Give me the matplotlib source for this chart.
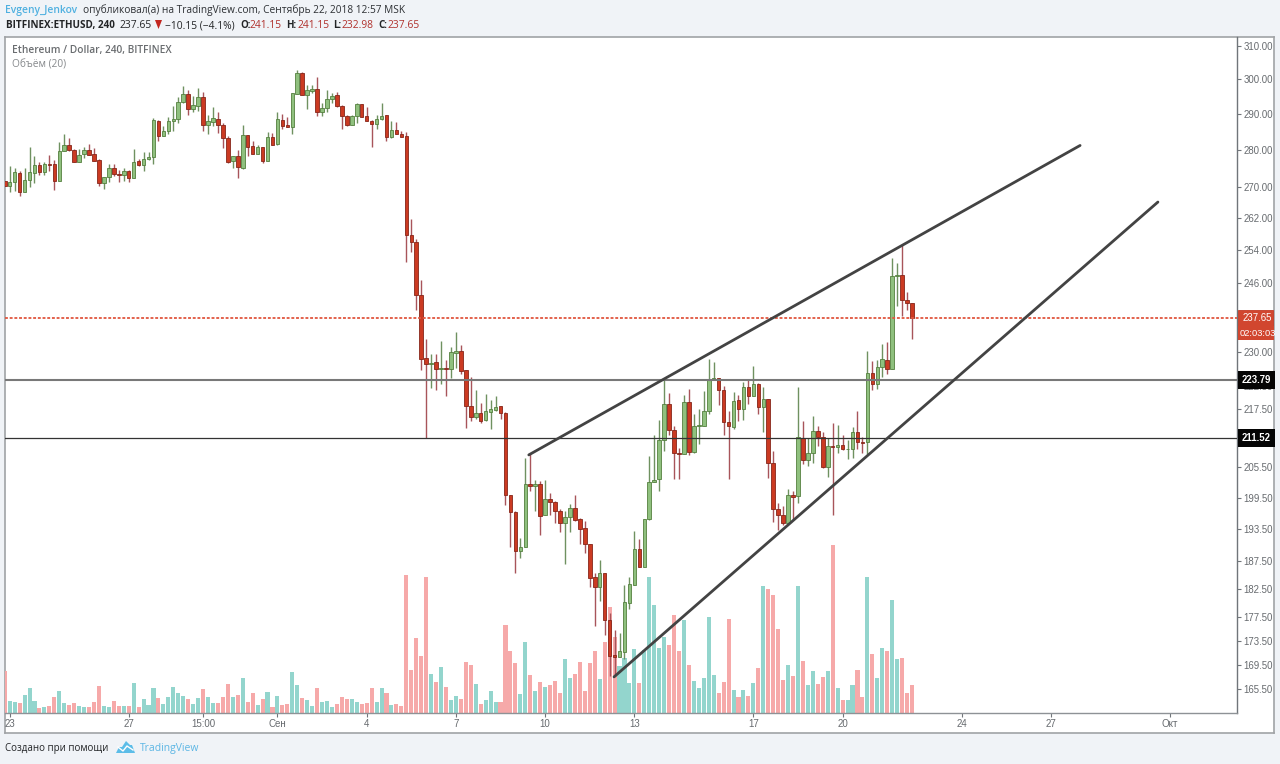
import numpy as np
import matplotlib
matplotlib.use("Agg")
import matplotlib.pyplot as plt
from matplotlib.patches import Polygon, Rectangle
from matplotlib.ticker import FixedLocator, FixedFormatter, NullLocator
from matplotlib.transforms import blended_transform_factory

plt.rcParams["font.family"] = ["Open Sans", "DejaVu Sans"]

# price candles, 4h bars, bar -1 is the one cut by the left edge
opens = [271.6,
    270.3, 271.4, 273.8, 268.9, 271.9, 273.8, 276, 274.2, 276.3, 276.3,
    271.7, 279.9, 281.4, 280, 276.9, 278.9, 280, 279, 277.3, 271.3,
    272.7, 275.2, 273.7, 273.4, 274.4, 272.4, 277, 275.9, 277.6, 278.1,
    288.2, 283.8, 285.3, 288, 288.6, 293.4, 295.8, 291.6, 292.4, 295,
    286.9, 287.7, 288.6, 286.9, 283.3, 277, 278.5, 275.2, 284.3, 281.2,
    279, 280.9, 277.2, 283.7, 281.6, 288.5, 287, 286.4, 295.9, 302,
    295.6, 296.7, 297.3, 290.7, 291.7, 294.4, 295.5, 292.4, 289.6, 287,
    289.6, 293, 289.4, 288.2, 287.2, 288.6, 289.8, 283.5, 285.6, 284.6,
    283.8, 257.8, 256, 243.2, 228.7, 227.4, 227.8, 226.1, 226.5, 226.2,
    229.8, 230.1, 225.9, 218.2, 215.9, 216.7, 215.2, 216.9, 217.4, 218.1,
    216.7, 200, 196.8, 189.3, 190.1, 202.2, 201.7, 202.2, 196.1, 199.2,
    198.7, 197, 194.7, 195.7, 197.5, 195.4, 193.7, 190.7, 184.6, 182.9,
    185.3, 177.1, 171.1, 170.8, 171.6, 180.1, 183.2, 189.7, 186.5, 195.3,
    202.5, 203.1, 211.1, 218.6, 213.2, 208.4, 208.2, 219.1, 208.5, 213.9,
    214, 217, 223.9, 224.3, 221.5, 214.7, 213.8, 219.4, 217.6, 222.3,
    220.2, 223, 218, 219.7, 206.3, 197.3, 196.1, 194.6, 200.1, 199.8,
    211.4, 207, 208.4, 213, 211.6, 205.5, 209.8, 209.6, 210, 209.1,
    209.2, 212.8, 210.7, 210.6, 225.2, 223, 226.7, 228.1, 226.2, 247.6,
    248, 241.9, 241.15]
closes = [270.4,
    271.4, 274.1, 268.9, 271.9, 274.1, 276, 274.2, 276.3, 275.9, 271.8,
    279.9, 281.4, 280, 276.9, 278.7, 280.1, 278.8, 277.2, 271.3, 272.7,
    275.2, 273.6, 273.4, 274.4, 272.4, 276.9, 275.9, 277.6, 278.2, 288.3,
    283.8, 285.3, 288.1, 288.6, 293.4, 295.8, 291.6, 292.6, 295, 286.9,
    288.2, 288.8, 287, 283.3, 276.9, 278.3, 275.5, 284.3, 281, 279,
    281, 277, 283.7, 281.5, 288.6, 286.8, 286.3, 296, 302, 295.5,
    297, 297.3, 290.7, 291.7, 294.4, 295.3, 292.4, 289.5, 287, 289.6,
    293, 289.3, 288.2, 287.3, 288.7, 289.6, 283.6, 285.7, 284.6, 283.7,
    257.7, 256, 243.2, 228.5, 227.3, 227.6, 226.1, 226.5, 226.2, 230,
    230.3, 225.7, 218.1, 215.8, 216.6, 215.1, 217, 217.5, 218, 216.6,
    200, 196.8, 189.3, 190.1, 202.2, 201.7, 202.2, 196, 199.2, 198.6,
    197, 194.7, 195.8, 197.5, 195.2, 193.5, 190.6, 184.5, 182.9, 185.4,
    177.1, 171, 170.7, 171.8, 180.2, 183.3, 189.8, 186.5, 195.4, 202.6,
    203, 211.1, 218.6, 213.2, 208.4, 208.2, 219.1, 208.5, 214, 214.1,
    217.2, 223.9, 224.3, 221.5, 214.7, 213.9, 219.3, 217.6, 222.3, 220.2,
    223, 218, 219.7, 206.3, 197.3, 196.1, 194.6, 200.1, 199.7, 211.6,
    207, 208.4, 213, 211.7, 205.5, 209.8, 209.6, 210, 209.2, 209.3,
    212.8, 210.6, 210.5, 225.2, 223, 226.7, 228.3, 226.2, 247.7, 248,
    241.9, 241.2, 237.65]
highs = [271.6,
    275.6, 275.2, 274.5, 275.2, 280.9, 278.3, 276.8, 276.8, 278.8, 277.4,
    282.2, 284.5, 283.3, 280.3, 280.3, 280.9, 281.7, 280.6, 277.6, 272.9,
    276.3, 276.2, 274.7, 275.2, 274.7, 280.3, 277.6, 279.4, 279.5, 288.8,
    288.4, 286.6, 289.3, 292.4, 294.8, 298.2, 297, 295.3, 297.5, 296.5,
    289.8, 292, 290.7, 287.5, 283.8, 278.3, 280.1, 287, 284.3, 282.4,
    281.5, 281, 284.9, 284.8, 290.6, 290.1, 289.3, 296, 302.8, 302.3,
    298.4, 298.4, 300.7, 293.1, 297, 296.2, 296.5, 292.6, 289.8, 289.8,
    293.1, 293, 292.2, 288.4, 289.8, 293.1, 289.8, 288.2, 287.9, 285.4,
    284.9, 261.8, 256.8, 246.6, 233, 229.6, 229.5, 232.4, 228.1, 231.2,
    234.6, 231.6, 225.9, 224.5, 221.5, 218.9, 220.8, 219.5, 220.2, 218.2,
    216.8, 200, 196.9, 191.8, 207.4, 208.2, 203, 202.7, 203, 200.4,
    198.9, 197.3, 196.9, 198.3, 200, 195.6, 195.1, 190.7, 185.4, 187.7,
    185.3, 178.2, 175.3, 174.8, 183.2, 184.7, 193.2, 191.6, 195.4, 207.7,
    212.1, 215.3, 224, 221, 213.9, 209.4, 220.6, 221.9, 216.4, 217.5,
    221.3, 228.3, 227.7, 224.3, 222.4, 217, 221.2, 220.6, 223.4, 223.9,
    226.8, 223.2, 222.3, 219.7, 208.7, 198.5, 197.8, 201.1, 200.9, 222.2,
    215.1, 211.4, 216, 214, 212.8, 211.4, 214.6, 214.1, 212.1, 211.1,
    213.8, 217, 211.7, 230.1, 227.9, 228.1, 231.8, 232.2, 252, 250.9,
    255.3, 243.9, 241.15]
lows = [270.4,
    268.9, 269.1, 267.8, 268.7, 270.2, 271.3, 273.2, 273.2, 274.3, 269.4,
    271.7, 279.8, 279.9, 276.8, 276.8, 277.9, 278.6, 277.1, 270.4, 269.6,
    271.5, 273.1, 271.5, 271.7, 271.5, 272.4, 275.8, 274.4, 277.4, 276.3,
    282.4, 283.8, 284.6, 285.4, 287.5, 293.1, 289.8, 290.7, 291, 285.4,
    284.6, 286.8, 284.8, 280.6, 276.5, 275.2, 272.6, 274.9, 278.5, 279,
    279, 276.5, 277.2, 281.3, 281.5, 285.9, 286.3, 284.5, 295.8, 295.5,
    291.6, 296, 289.5, 289.5, 290.7, 293.1, 292.2, 285.9, 286.8, 287,
    287.5, 289.1, 288, 281, 285.9, 288.4, 282.4, 283.4, 284.5, 283.6,
    251, 253.5, 239.5, 225.9, 211.5, 222.1, 221.7, 223, 220.2, 224.3,
    226.5, 225, 213.6, 215, 215.4, 214.5, 215.1, 213.3, 217.2, 215.4,
    198.1, 190.2, 185.3, 188.1, 190.1, 200.9, 197, 192.4, 196.1, 196.1,
    194.7, 192.9, 187, 192.9, 195.1, 190.7, 189, 182.9, 176, 180.3,
    174.4, 167.7, 167.6, 170.7, 170.5, 179, 183.2, 186.4, 186.4, 195.2,
    202.5, 200.9, 208.7, 212.1, 203.1, 203.1, 208.2, 208, 208.4, 210.2,
    214, 216.5, 223.9, 218.4, 212.1, 203.1, 213.4, 215.1, 215.3, 218.6,
    220.2, 216.4, 212.6, 203.3, 194.9, 193.3, 194.3, 194.6, 195.2, 198.5,
    206.2, 205.8, 206.4, 209.8, 205.3, 203.5, 196.1, 208.4, 209, 207.1,
    207.3, 209.3, 208.4, 208.1, 221.5, 221.9, 224.5, 225, 226.2, 240.5,
    238.1, 239.7, 232.98]
volumes = [42,
    12, 11, 10, 18, 25, 12, 5, 6, 7, 16,
    22, 10, 8, 10, 7, 6, 6, 11, 27, 7,
    6, 12, 7, 7, 7, 30, 6, 14, 8, 25,
    15, 9, 16, 26, 20, 17, 14, 9, 15, 24,
    16, 10, 10, 16, 29, 16, 18, 35, 11, 20,
    8, 14, 21, 6, 17, 8, 9, 41, 28, 15,
    13, 7, 25, 11, 12, 6, 9, 16, 14, 14,
    11, 9, 10, 25, 11, 25, 20, 8, 9, 7,
    138, 43, 75, 57, 136, 39, 31, 46, 26, 13,
    17, 14, 51, 48, 29, 9, 13, 22, 11, 11,
    88, 62, 50, 19, 71, 38, 22, 31, 26, 28,
    32, 20, 54, 35, 39, 51, 22, 50, 62, 34,
    71, 106, 76, 47, 55, 30, 64, 30, 63, 136,
    108, 65, 76, 68, 98, 62, 93, 48, 32, 25,
    35, 96, 38, 20, 31, 94, 23, 16, 23, 17,
    30, 45, 127, 124, 118, 84, 33, 48, 37, 127,
    52, 28, 42, 29, 36, 42, 168, 25, 13, 13,
    28, 43, 16, 136, 59, 35, 65, 62, 113, 54,
    55, 20, 28]

# drawn trend lines, bar number and price at both ends
upper_trend_bars = [104.7, 215.9]
upper_trend_prices = [208.0, 281.3]
lower_trend_bars = [121.9, 231.6]
lower_trend_prices = [167.5, 266.2]

last_price = 237.65
level_high = 223.79
level_low = 211.52

price_ticks = [310, 300, 290, 280, 270, 262, 254, 246, 230, 222.5, 217.5, 205.5,
               199.5, 193.5, 187.5, 182.5, 177.5, 173.5, 169.5, 165.5]
date_ticks = [0, 24, 39, 54, 72, 90, 108, 126, 150, 168, 192, 210, 234]
date_labels = ["23", "27", "15:00", "Сен", "4", "7", "10", "13", "17", "20", "24", "27", "Окт"]


def fx(x):
    return x / 1280


def fy(y):
    return 1 - y / 764


fig = plt.figure(figsize=(12.8, 7.64), dpi=100, facecolor="#f0f3f7")

# white panel with the price and time strips
frame = fig.add_axes([fx(5), fy(733), fx(1269), (733 - 37) / 764])
frame.set_xticks([])
frame.set_yticks([])
for side in ["top", "left", "right", "bottom"]:
    frame.spines[side].set_color("#a0a3a6")
    frame.spines[side].set_linewidth(1.2)

chart_pos = [fx(5), fy(713), (1237 - 5) / 1280, (713 - 37) / 764]

# volume sits on its own axes behind the candles
vol_ax = fig.add_axes(chart_pos, facecolor="none")
price_ax = fig.add_axes(chart_pos, facecolor="none", sharex=vol_ax)

bars = np.arange(-1, 183)
opens_a = np.array(opens)
closes_a = np.array(closes)
highs_a = np.array(highs)
lows_a = np.array(lows)
up = closes_a >= opens_a

vol_colors = np.where(up, "#93d5cd", "#f6a9a9")
vol_ax.bar(bars, volumes, width=0.82, color=vol_colors, linewidth=0)
vol_ax.set_ylim(0, 676)
vol_ax.axis("off")

price_ax.set_yscale("log")
price_ax.set_xlim(-0.95, 247.55)
price_ax.set_ylim(161.7, 312.7)

price_ax.vlines(bars[up], lows_a[up], highs_a[up], color="#6f9160", linewidth=1.0, zorder=3)
price_ax.vlines(bars[~up], lows_a[~up], highs_a[~up], color="#a8545a", linewidth=1.0, zorder=3)
price_ax.bar(bars[up], (closes_a - opens_a)[up], bottom=opens_a[up], width=0.72,
             color="#8fc07e", edgecolor="#55803f", linewidth=0.6, zorder=4)
price_ax.bar(bars[~up], (opens_a - closes_a)[~up], bottom=closes_a[~up], width=0.72,
             color="#cb3a22", edgecolor="#86261a", linewidth=0.6, zorder=4)

# levels
price_ax.axhline(level_high, color="#787878", linewidth=1.5, zorder=5)
price_ax.axhline(level_low, color="#333333", linewidth=0.9, zorder=5)
price_ax.axhline(last_price, color="#e0563f", linewidth=1.3, linestyle=(0, (1.6, 1.0)), zorder=5)

price_ax.plot(upper_trend_bars, upper_trend_prices, color="#434343", linewidth=2.0,
              solid_capstyle="round", zorder=6)
price_ax.plot(lower_trend_bars, lower_trend_prices, color="#434343", linewidth=2.0,
              solid_capstyle="round", zorder=6)

# axes look
for ax_side in ["top", "left"]:
    price_ax.spines[ax_side].set_visible(False)
price_ax.spines["right"].set_color("#70757a")
price_ax.spines["bottom"].set_color("#8e9296")
price_ax.spines["right"].set_linewidth(1.0)
price_ax.spines["bottom"].set_linewidth(1.0)

num_font = ["Liberation Sans", "DejaVu Sans"]
price_ax.yaxis.tick_right()
price_ax.yaxis.set_major_locator(FixedLocator(price_ticks))
price_ax.yaxis.set_major_formatter(FixedFormatter([f"{p:.2f}" for p in price_ticks]))
price_ax.yaxis.set_minor_locator(NullLocator())
price_ax.tick_params(axis="y", length=3, width=0.8, color="#70757a", labelcolor="#666a6e",
                     labelsize=6.9, pad=1.5)
for lab in price_ax.get_yticklabels():
    lab.set_family(num_font)

price_ax.set_xticks(date_ticks)
price_ax.set_xticklabels(date_labels)
price_ax.tick_params(axis="x", length=3, width=0.8, color="#70757a", labelcolor="#666a6e",
                     labelsize=7.0, pad=1.5)
for lab in price_ax.get_xticklabels():
    lab.set_family(num_font)

# price labels on the right strip
tag_trans = blended_transform_factory(price_ax.transAxes, price_ax.transData)
for level in [level_high, level_low]:
    price_ax.text(1.004, level, f"{level:.2f}", transform=tag_trans, color="white",
                  fontsize=6.9, fontweight="bold", family=num_font, va="center", ha="left",
                  bbox=dict(boxstyle="square,pad=0.4", fc="#050505", ec="#050505", lw=0),
                  zorder=10, clip_on=False)

fig.add_artist(Rectangle((fx(1238), fy(326)), 35 / 1280, 16 / 764, transform=fig.transFigure,
                         fc="#d1462f", ec="#c23a26", lw=0.6, zorder=9))
fig.add_artist(Rectangle((fx(1238), fy(340)), 36 / 1280, 14 / 764, transform=fig.transFigure,
                         fc="#d1462f", ec="none", zorder=9))
fig.text(fx(1243), fy(318), "237.65", color="white", fontsize=6.9, family=num_font,
         va="center", ha="left", zorder=11)
fig.text(fx(1240), fy(333), "02:03:03", color="white", fontsize=6.7, family=num_font,
         va="center", ha="left", zorder=11)

# chart caption
fig.text(fx(12), fy(51), "Ethereum / Dollar, 240, BITFINEX", color="#6a6d70", fontsize=7.27,
         fontweight="semibold", va="center")
fig.text(fx(12), fy(65), "Объём (20)", color="#85888b", fontsize=7.3, va="center")

# header
fig.text(fx(5), fy(10.5), "Evgeny_Jenkov", color="#4fb0e0", fontsize=7.4, fontweight="semibold", va="center")
fig.text(fx(83), fy(10.5), "опубликовал(а) на TradingView.com, Сентябрь 22, 2018 12:57 MSK",
         color="#2c2f33", fontsize=7.3, va="center")

header_dark = "#222426"
header_red = "#b0302c"
header_parts = [
    (5.5, "BITFINEX:ETHUSD, 240", header_dark, "bold", 7.1),
    (119, "237.65", header_dark, "normal", 7.4),
    (165, "−10.15 (−4.1%)", header_dark, "normal", 7.4),
    (240, "O:", header_dark, "bold", 7.0),
    (250, "241.15", header_red, "normal", 7.4),
    (286, "H:", header_dark, "bold", 7.0),
    (297, "241.15", header_red, "normal", 7.4),
    (333, "L:", header_dark, "bold", 7.0),
    (342, "232.98", header_red, "normal", 7.4),
    (378, "C:", header_dark, "bold", 7.0),
    (387, "237.65", header_red, "normal", 7.4),
]
for hx, txt, col, wt, size in header_parts:
    fig.text(fx(hx), fy(25.5), txt, color=col, fontsize=size, fontweight=wt, va="center")
fig.add_artist(Polygon([(fx(155), fy(20)), (fx(162), fy(20)), (fx(158.5), fy(29))],
                       transform=fig.transFigure, fc="#c2261f", ec="none"))

# footer with logo
fig.text(fx(5), fy(748.5), "Создано при помощи", color="#222426", fontsize=7.05, va="center")
logo = [(116, 753), (119, 747), (122, 747), (126, 741), (130, 745), (132, 745), (135, 753)]
fig.add_artist(Polygon([(fx(a), fy(b)) for a, b in logo], transform=fig.transFigure,
                       fc="#5cbde8", ec="none"))
fig.add_artist(plt.Line2D([fx(118), fx(123), fx(127), fx(133)], [fy(747), fy(751), fy(746), fy(750)],
                          transform=fig.transFigure, color="white", linewidth=1.0))
fig.text(fx(140), fy(748.5), "TradingView", color="#5cb6e4", fontsize=7.5, va="center")

fig.savefig("out.png", dpi=100)
